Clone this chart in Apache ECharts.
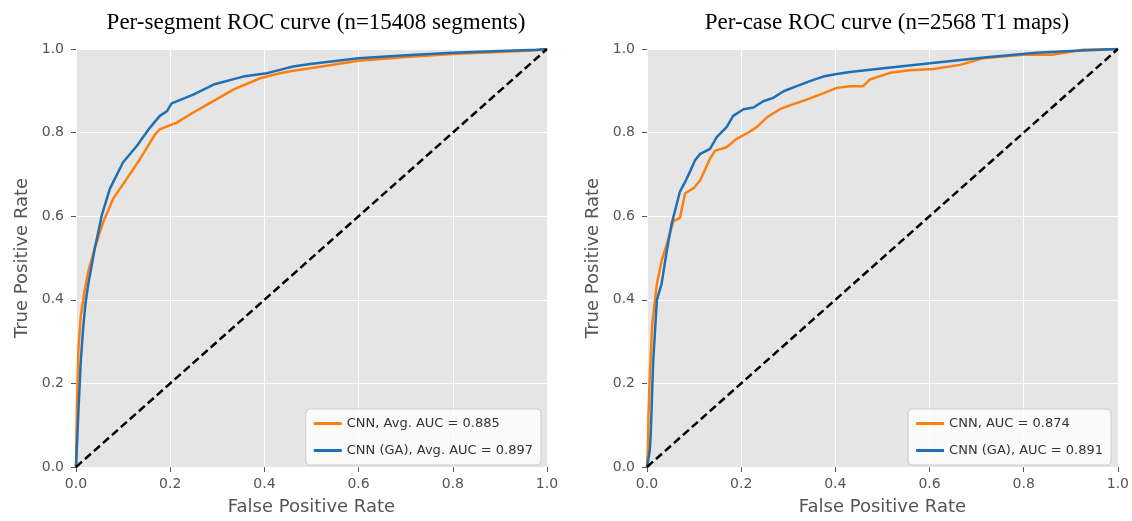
<!DOCTYPE html>
<html>
<head>
<meta charset="utf-8">
<script src="https://cdn.jsdelivr.net/npm/echarts@6/dist/echarts.min.js"></script>
<style>
  html, body { margin: 0; padding: 0; background: #fff; }
  #main { width: 1132px; height: 521px; }
</style>
</head>
<body>
<div id="main"></div>
<script>
var chartDom = document.getElementById('main');
var myChart = echarts.init(chartDom);
var option;

const titles = ['Per-segment ROC curve (n=15408 segments)', 'Per-case ROC curve (n=2568 T1 maps)'];
const segNames = ['CNN, Avg. AUC = 0.885', 'CNN (GA), Avg. AUC = 0.897'];
const caseNames = ['CNN, AUC = 0.874', 'CNN (GA), AUC = 0.891'];
const chance = [[0, 0], [1, 1]];

// per-segment curves, [fpr, tpr]
const segCnn = [
  [0, 0], [0.002, 0.15], [0.005, 0.28], [0.01, 0.36], [0.018, 0.42], [0.026, 0.468],
  [0.04, 0.524], [0.058, 0.587], [0.079, 0.642], [0.108, 0.69], [0.136, 0.737],
  [0.168, 0.796], [0.178, 0.808], [0.214, 0.824], [0.249, 0.848], [0.285, 0.871],
  [0.334, 0.903], [0.391, 0.93], [0.433, 0.942], [0.461, 0.948], [0.497, 0.954],
  [0.6, 0.972], [0.7, 0.981], [0.8, 0.988], [0.9, 0.993], [0.978, 0.997], [1, 1]
];
const segGa = [
  [0, 0], [0.005, 0.13], [0.01, 0.25], [0.015, 0.33], [0.02, 0.39], [0.026, 0.437],
  [0.04, 0.524], [0.055, 0.603], [0.072, 0.666], [0.1, 0.729], [0.129, 0.768],
  [0.157, 0.812], [0.178, 0.84], [0.193, 0.851], [0.203, 0.87], [0.249, 0.891],
  [0.292, 0.915], [0.355, 0.934], [0.405, 0.942], [0.433, 0.95], [0.461, 0.958],
  [0.497, 0.964], [0.6, 0.978], [0.7, 0.985], [0.8, 0.991], [0.9, 0.995], [0.978, 0.998], [1, 1]
];

// per-case curves, [fpr, tpr]
const caseCnn = [
  [0, 0], [0.002, 0.05], [0.003, 0.12], [0.006, 0.22], [0.011, 0.34], [0.017, 0.4],
  [0.021, 0.438], [0.031, 0.493], [0.042, 0.533], [0.056, 0.588], [0.07, 0.596],
  [0.081, 0.655], [0.099, 0.667], [0.113, 0.686], [0.134, 0.738], [0.145, 0.757],
  [0.169, 0.765], [0.19, 0.785], [0.212, 0.798], [0.233, 0.813], [0.254, 0.836],
  [0.282, 0.856], [0.311, 0.868], [0.339, 0.879], [0.367, 0.891], [0.403, 0.907],
  [0.431, 0.911], [0.459, 0.911], [0.473, 0.927], [0.516, 0.943], [0.558, 0.949],
  [0.608, 0.952], [0.665, 0.962], [0.714, 0.978], [0.799, 0.986], [0.86, 0.986],
  [0.926, 0.998], [1, 1]
];
const caseGa = [
  [0, 0], [0.006, 0.04], [0.008, 0.08], [0.013, 0.25], [0.021, 0.4], [0.031, 0.438],
  [0.042, 0.517], [0.052, 0.58], [0.07, 0.659], [0.081, 0.682], [0.091, 0.706],
  [0.102, 0.734], [0.113, 0.749], [0.134, 0.761], [0.148, 0.789], [0.169, 0.813],
  [0.183, 0.84], [0.205, 0.856], [0.226, 0.86], [0.247, 0.875], [0.268, 0.883],
  [0.29, 0.899], [0.318, 0.911], [0.346, 0.923], [0.374, 0.934], [0.403, 0.94],
  [0.431, 0.945], [0.488, 0.952], [0.601, 0.966], [0.721, 0.98], [0.827, 0.991],
  [0.9, 0.995], [1, 1]
];

const colors = ['#ff7f0e', '#1f6fb2'];
const tickColor = '#555';
const font = 'DejaVu Sans';

function valueAxis(idx, name, isX) {
  return {
    type: 'value',
    gridIndex: idx,
    min: 0,
    max: 1,
    interval: 0.2,
    name: name,
    nameLocation: 'middle',
    nameGap: isX ? 31 : 45,
    nameTextStyle: { fontFamily: font, fontSize: 18, color: tickColor },
    axisLine: { show: false },
    axisTick: { show: true, length: 5, lineStyle: { color: tickColor, width: 1 } },
    axisLabel: {
      margin: isX ? 10 : 12,
      fontFamily: font,
      fontSize: 14,
      color: tickColor,
      formatter: function (v) { return v.toFixed(1); }
    },
    splitLine: { show: true, lineStyle: { color: '#ffffff', width: 1 } }
  };
}

function curve(name, data, color, idx) {
  return {
    name: name,
    type: 'line',
    xAxisIndex: idx,
    yAxisIndex: idx,
    showSymbol: false,
    symbol: 'none',
    color: color,
    lineStyle: { width: 2.5, color: color },
    data: data
  };
}

function diag(idx) {
  return {
    type: 'line',
    xAxisIndex: idx,
    yAxisIndex: idx,
    symbol: 'none',
    lineStyle: { width: 2.5, color: '#000', type: [8, 4] },
    z: 3,
    data: chance
  };
}

function legend(names, right) {
  return {
    data: names,
    orient: 'vertical',
    right: right,
    bottom: 56,
    icon: 'rect',
    itemWidth: 28,
    itemHeight: 3,
    itemGap: 14,
    padding: [8, 8, 8, 8],
    backgroundColor: 'rgba(255,255,255,0.8)',
    borderColor: '#cccccc',
    borderWidth: 1,
    borderRadius: 4,
    textStyle: { fontFamily: font, fontSize: 13, color: '#333' }
  };
}

const titleStyle = { fontFamily: 'Liberation Serif', fontSize: 23, fontWeight: 'normal', color: '#000' };

option = {
  animation: false,
  backgroundColor: '#fff',
  title: [
    { text: titles[0], left: 311, top: 6, textAlign: 'center', textStyle: titleStyle },
    { text: titles[1], left: 882, top: 6, textAlign: 'center', textStyle: titleStyle }
  ],
  legend: [legend(segNames, 591), legend(caseNames, 21)],
  grid: [
    { left: 76, width: 471, top: 49, bottom: 50, show: true, backgroundColor: '#e5e5e5', borderWidth: 0 },
    { left: 647, width: 471, top: 49, bottom: 50, show: true, backgroundColor: '#e5e5e5', borderWidth: 0 }
  ],
  xAxis: [valueAxis(0, 'False Positive Rate', true), valueAxis(1, 'False Positive Rate', true)],
  yAxis: [valueAxis(0, 'True Positive Rate', false), valueAxis(1, 'True Positive Rate', false)],
  series: [
    curve(segNames[0], segCnn, colors[0], 0),
    curve(segNames[1], segGa, colors[1], 0),
    diag(0),
    curve(caseNames[0], caseCnn, colors[0], 1),
    curve(caseNames[1], caseGa, colors[1], 1),
    diag(1)
  ]
};

option && myChart.setOption(option);
</script>
</body>
</html>
